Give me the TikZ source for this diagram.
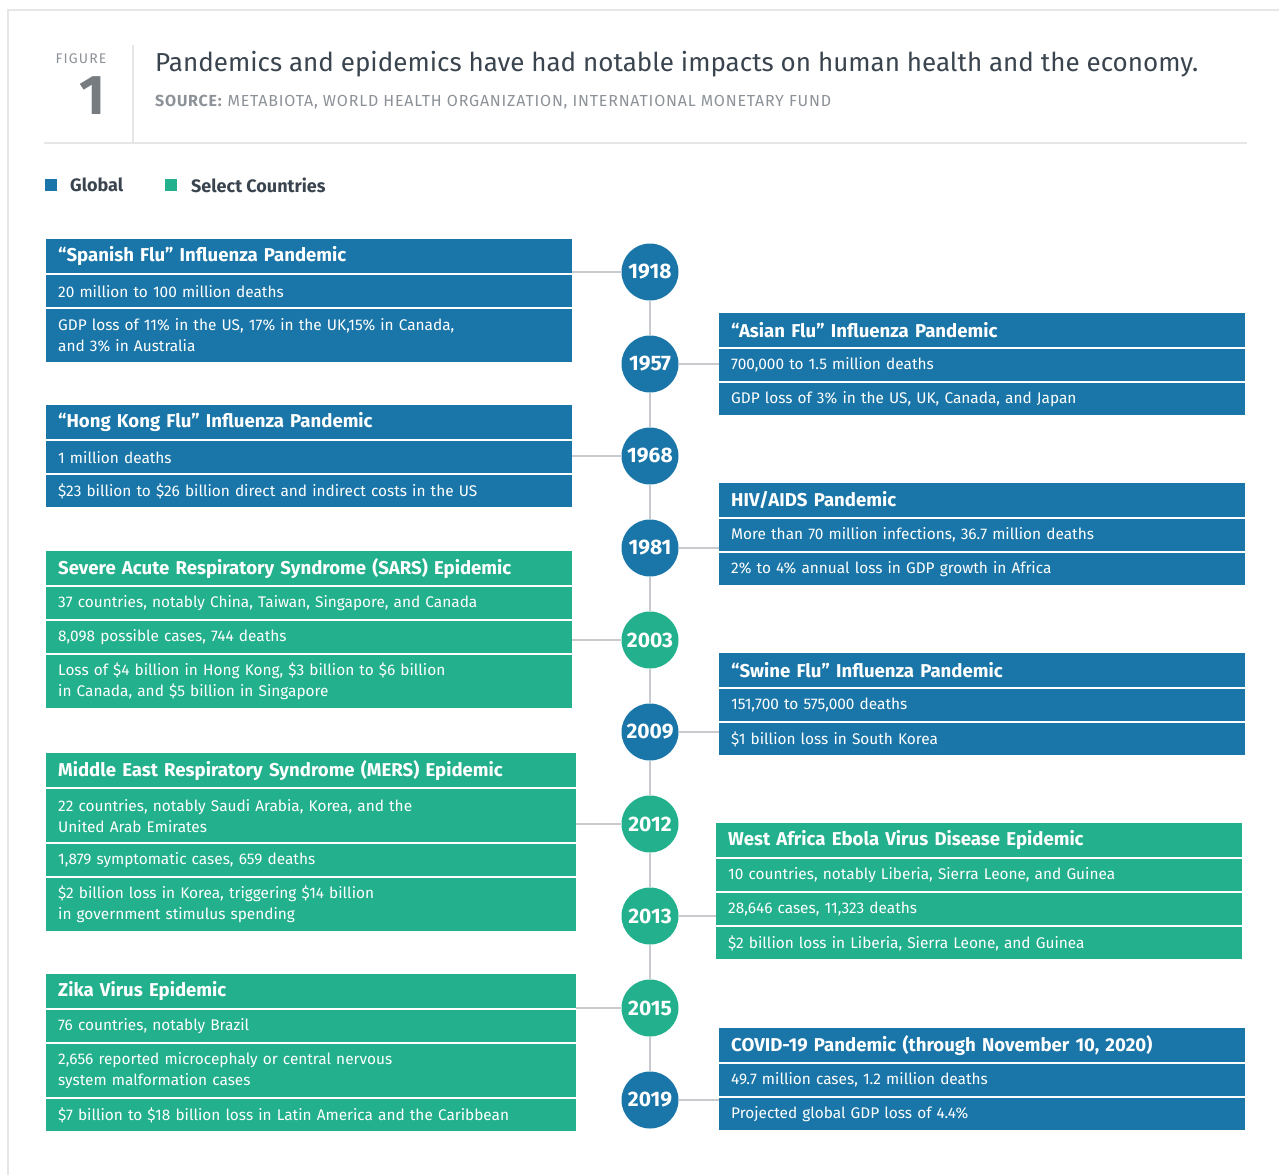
\documentclass[tikz,border=0pt]{standalone}
\usepackage{fontspec}
\setmainfont{Fira Sans}
\definecolor{gblue}{RGB}{26,118,168}
\definecolor{sgreen}{RGB}{35,176,140}
\definecolor{linegray}{RGB}{200,202,206}
\definecolor{framegray}{RGB}{228,230,232}
\definecolor{titlegray}{RGB}{58,68,78}
\definecolor{srcgray}{RGB}{140,146,152}
\newcommand\hdrfont{\fontsize{18.6}{22}\selectfont\bfseries}
\newcommand\rowfont{\fontsize{15.4}{21}\selectfont}
\newcommand\yrfont{\fontsize{21}{24}\selectfont\bfseries}
\tikzset{
  cell/.style={rectangle, anchor=north west, inner xsep=12pt, inner ysep=0pt,
    text width=502pt, align=left, text=white, minimum height=32pt},
  wide/.style={text width=506pt},
  hdr/.style={cell, minimum height=34pt, font=\hdrfont},
  row/.style={cell, font=\rowfont},
  tall/.style={minimum height=53pt},
  gbl/.style={fill=gblue},
  sel/.style={fill=sgreen},
  yr/.style={circle, minimum size=57pt, inner sep=0pt, font=\yrfont, text=white},
  link/.style={draw=linegray, line width=2pt}
}
\begin{document}
\begin{tikzpicture}[x=1pt,y=-1pt]
\useasboundingbox (0,0) rectangle (1279,1175);
% frame
\draw[framegray, line width=2pt] (8,1175) -- (8,10) -- (1279,10);
% header area
\node[anchor=center, text=srcgray, font=\fontsize{14}{16}\selectfont\addfontfeatures{LetterSpace=8}] (figlbl) at (81,59) {FIGURE};
\node[anchor=center, text=srcgray!85!black, font=\fontsize{56}{60}\selectfont\bfseries] (fignum) at (92,96) {1};
\draw[framegray, line width=1.5pt] (133,45) -- (133,143);
\node[anchor=west, inner sep=0pt, text=titlegray, font=\fontsize{26}{30}\selectfont] (title) at (155,64)
  {Pandemics and epidemics have had notable impacts on human health and the economy.};
\node[anchor=west, inner sep=0pt, text=srcgray, font=\fontsize{16}{18}\selectfont\addfontfeatures{LetterSpace=5}] (source) at (155,102)
  {\textbf{SOURCE:} METABIOTA, WORLD HEALTH ORGANIZATION, INTERNATIONAL MONETARY FUND};
\draw[framegray, line width=1.5pt] (44,143) -- (1247,143);
% legend
\node[rectangle, fill=gblue, minimum size=12pt, inner sep=0pt] (lgb) at (51,185) {};
\node[anchor=west, inner sep=0pt, text=titlegray, font=\fontsize{18}{20}\selectfont\bfseries] (lgbt) at (70,185) {Global};
\node[rectangle, fill=sgreen, minimum size=12pt, inner sep=0pt] (lgs) at (171,185) {};
\node[anchor=west, inner sep=0pt, text=titlegray, font=\fontsize{18}{20}\selectfont\bfseries] (lgst) at (191,185) {Select Countries};

% circles
\foreach \yy/\nm/\cl in {272/1918/gblue, 364/1957/gblue, 456/1968/gblue, 548/1981/gblue,
  640/2003/sgreen, 732/2009/gblue, 824/2012/sgreen, 916/2013/sgreen, 1008/2015/sgreen, 1100/2019/gblue}
  \node[yr, fill=\cl] (c\nm) at (650,\yy) {\nm};
\foreach \a/\b in {1918/1957, 1957/1968, 1968/1981, 1981/2003, 2003/2009, 2009/2012, 2012/2013, 2013/2015, 2015/2019}
  \draw[link] (c\a.south) -- (c\b.north);

% ---------- left boxes ----------
% Spanish flu
\node[hdr, gbl] (sp-h) at (46,239) {“Spanish Flu” Influenza Pandemic};
\node[row, gbl] (sp-1) at (46,275) {20 million to 100 million deaths};
\node[row, gbl, tall] (sp-2) at (46,309) {GDP loss of 11\% in the US, 17\% in the UK,15\% in Canada,\\and 3\% in Australia};
% Hong Kong flu
\node[hdr, gbl] (hk-h) at (46,405) {“Hong Kong Flu” Influenza Pandemic};
\node[row, gbl] (hk-1) at (46,441) {1 million deaths};
\node[row, gbl] (hk-2) at (46,475) {\$23 billion to \$26 billion direct and indirect costs in the US};
% SARS
\node[hdr, sel] (sa-h) at (46,551) {Severe Acute Respiratory Syndrome (SARS) Epidemic};
\node[row, sel] (sa-1) at (46,587) {37 countries, notably China, Taiwan, Singapore, and Canada};
\node[row, sel] (sa-2) at (46,621) {8,098 possible cases, 744 deaths};
\node[row, sel, tall] (sa-3) at (46,655) {Loss of \$4 billion in Hong Kong, \$3 billion to \$6 billion\\in Canada, and \$5 billion in Singapore};
% MERS
\node[hdr, sel, wide] (me-h) at (46,753) {Middle East Respiratory Syndrome (MERS) Epidemic};
\node[row, sel, wide, tall] (me-1) at (46,789) {22 countries, notably Saudi Arabia, Korea, and the\\United Arab Emirates};
\node[row, sel, wide] (me-2) at (46,844) {1,879 symptomatic cases, 659 deaths};
\node[row, sel, wide, tall] (me-3) at (46,878) {\$2 billion loss in Korea, triggering \$14 billion\\in government stimulus spending};
% Zika
\node[hdr, sel, wide] (zk-h) at (46,974) {Zika Virus Epidemic};
\node[row, sel, wide] (zk-1) at (46,1010) {76 countries, notably Brazil};
\node[row, sel, wide, tall] (zk-2) at (46,1044) {2,656 reported microcephaly or central nervous\\system malformation cases};
\node[row, sel, wide] (zk-3) at (46,1099) {\$7 billion to \$18 billion loss in Latin America and the Caribbean};

% ---------- right boxes ----------
\node[hdr, gbl] (as-h) at (719,313) {“Asian Flu” Influenza Pandemic};
\node[row, gbl] (as-1) at (719,349) {700,000 to 1.5 million deaths};
\node[row, gbl] (as-2) at (719,383) {GDP loss of 3\% in the US, UK, Canada, and Japan};
\node[hdr, gbl] (hv-h) at (719,483) {HIV/AIDS Pandemic};
\node[row, gbl] (hv-1) at (719,519) {More than 70 million infections, 36.7 million deaths};
\node[row, gbl] (hv-2) at (719,553) {2\% to 4\% annual loss in GDP growth in Africa};
\node[hdr, gbl] (sw-h) at (719,653) {“Swine Flu” Influenza Pandemic};
\node[row, gbl] (sw-1) at (719,689) {151,700 to 575,000 deaths};
\node[row, gbl] (sw-2) at (719,723) {\$1 billion loss in South Korea};
\node[hdr, sel] (eb-h) at (716,823) {West Africa Ebola Virus Disease Epidemic};
\node[row, sel] (eb-1) at (716,859) {10 countries, notably Liberia, Sierra Leone, and Guinea};
\node[row, sel] (eb-2) at (716,893) {28,646 cases, 11,323 deaths};
\node[row, sel] (eb-3) at (716,927) {\$2 billion loss in Liberia, Sierra Leone, and Guinea};
\node[hdr, gbl] (cv-h) at (719,1028) {COVID-19 Pandemic (through November 10, 2020)};
\node[row, gbl] (cv-1) at (719,1064) {49.7 million cases, 1.2 million deaths};
\node[row, gbl] (cv-2) at (719,1098) {Projected global GDP loss of 4.4\%};

% connectors
\draw[link] (c1918.west) -- (c1918.west -| sp-h.east);
\draw[link] (c1968.west) -- (c1968.west -| hk-h.east);
\draw[link] (c2003.west) -- (c2003.west -| sa-h.east);
\draw[link] (c2012.west) -- (c2012.west -| me-h.east);
\draw[link] (c2015.west) -- (c2015.west -| zk-h.east);
\draw[link] (c1957.east) -- (c1957.east -| as-h.west);
\draw[link] (c1981.east) -- (c1981.east -| hv-h.west);
\draw[link] (c2009.east) -- (c2009.east -| sw-h.west);
\draw[link] (c2013.east) -- (c2013.east -| eb-h.west);
\draw[link] (c2019.east) -- (c2019.east -| cv-h.west);
\end{tikzpicture}
\end{document}
